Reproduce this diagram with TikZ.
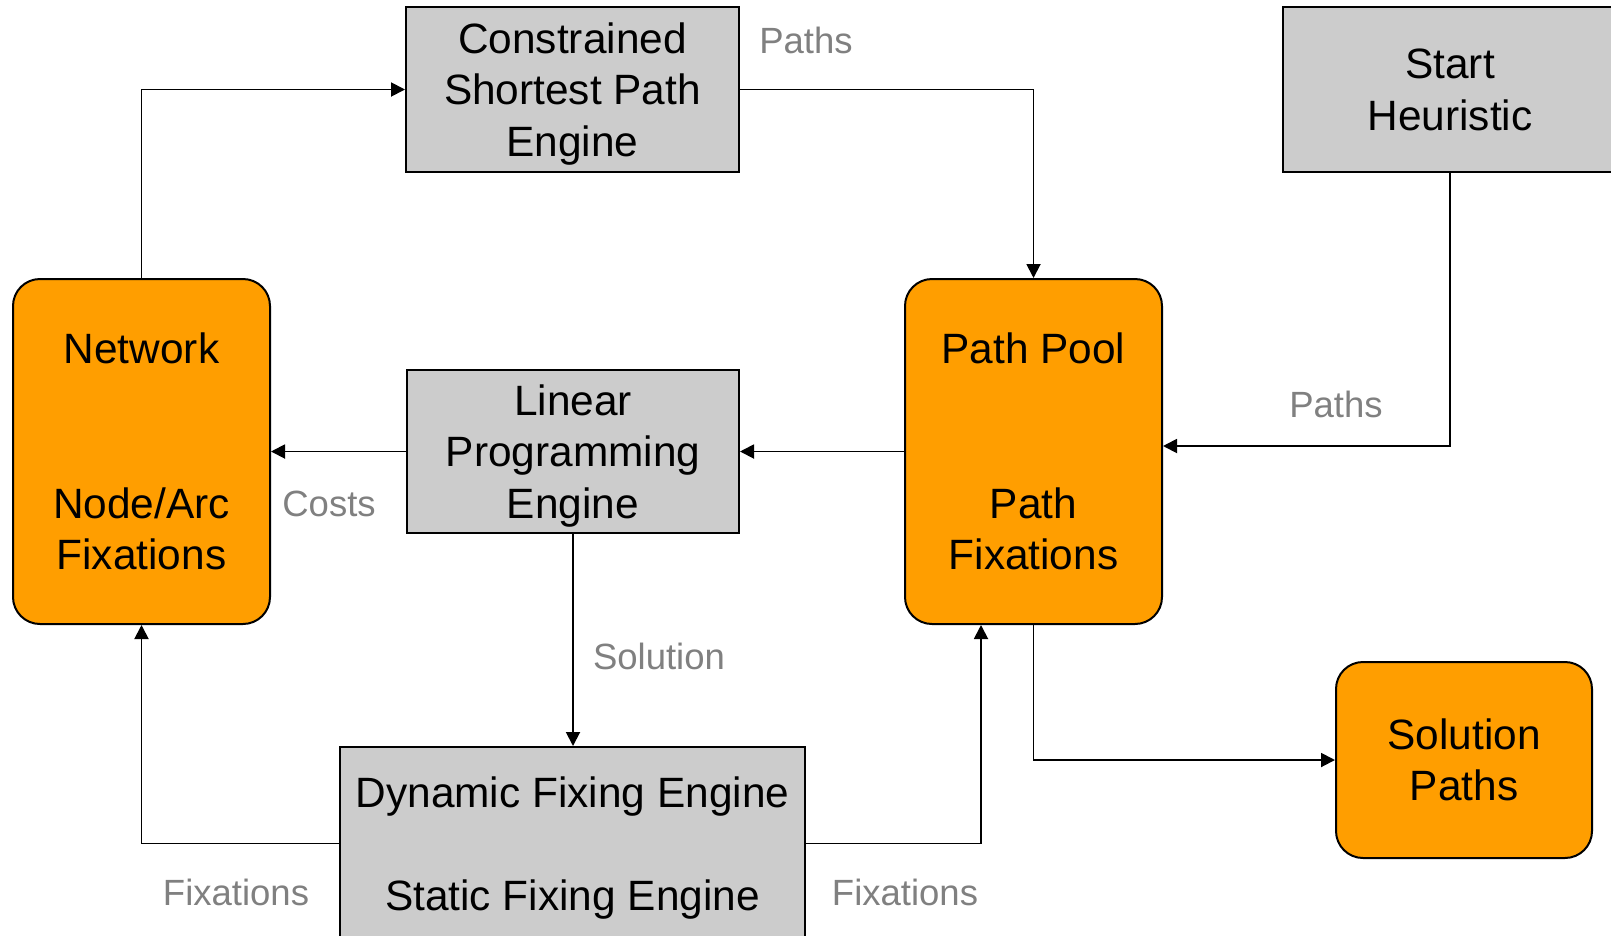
\documentclass[tikz,border=0pt]{standalone}
\usepackage{fontspec}
\setmainfont{Liberation Sans}
\usetikzlibrary{arrows.meta}
\definecolor{boxorange}{RGB}{255,158,0}
\definecolor{boxgray}{RGB}{204,204,204}
\definecolor{labelgray}{RGB}{128,128,128}
\newcommand\diagboxfont{\fontsize{42.4}{51.5}\selectfont}
\newcommand\diaglabelfont{\fontsize{36.5}{44}\selectfont}
% strut that centres the capitals of a text block on its node
\newcommand\dst{\rule[-10.55pt]{0pt}{51.5pt}}
\begin{document}
\begin{tikzpicture}[x=1pt,y=-1pt,
  engine/.style={draw=black, line width=2pt, fill=boxgray, align=center,
    inner sep=0pt, font=\diagboxfont},
  store/.style={draw=black, line width=2pt, fill=boxorange, rounded corners=27pt,
    align=center, inner sep=0pt, font=\diagboxfont},
  flow/.style={line width=1.9pt, -{Triangle[length=14pt,width=14pt]}},
  flowlabel/.style={text=labelgray, font=\diaglabelfont, inner sep=0pt}
]
\clip (0,0) rectangle (1611,935);

% processing engines (grey) and data stores (orange)
\node[engine, minimum width=333pt, minimum height=165pt] (csp) at (572.5,89.5)
  {\dst Constrained\\Shortest Path\\Engine\dst};
\node[engine, minimum width=334pt, minimum height=165pt] (start) at (1450,89.5)
  {\dst Start\\Heuristic\dst};
\node[store, minimum width=257pt, minimum height=345pt] (net) at (141.5,451.5)
  {\dst Network\\~\\~\\Node/Arc\\Fixations\dst};
\node[engine, minimum width=332pt, minimum height=163pt] (lp) at (573,451.5)
  {\dst Linear\\Programming\\Engine\dst};
\node[store, minimum width=257pt, minimum height=345pt] (pool) at (1033.5,451.5)
  {\dst Path Pool\\~\\~\\Path\\Fixations\dst};
\node[store, minimum width=256pt, minimum height=196pt] (sol) at (1464,760)
  {\dst Solution\\Paths\dst};
\node[engine, minimum width=465pt, minimum height=193pt] (dyn) at (572.5,843.5)
  {\dst Dynamic Fixing Engine\\~\\Static Fixing Engine\dst};

% data flow
\draw[flow] (net.north) |- (csp.west);
\draw[flow] (csp.east) -| (pool.north);
\draw[flow] (start.south) |- ([yshift=5.5pt]pool.east);
\draw[flow] (pool.west) -- (lp.east);
\draw[flow] (lp.west) -- (net.east);
\draw[flow] (lp.south) -- (lp.south |- dyn.north);
\draw[flow] (dyn.west) -| (net.south);
\draw[flow] (dyn.east) -| ([xshift=-52.5pt]pool.south);
\draw[flow] (pool.south) |- (sol.west);

% flow labels
\node[flowlabel] (lpathsa) at (806,40) {Paths};
\node[flowlabel] (lpathsb) at (1336,404) {Paths};
\node[flowlabel] (lcosts) at (329,504) {Costs};
\node[flowlabel] (lsol) at (659,656) {Solution};
\node[flowlabel] (lfixa) at (236,892) {Fixations};
\node[flowlabel] (lfixb) at (905,892) {Fixations};
\end{tikzpicture}
\end{document}
